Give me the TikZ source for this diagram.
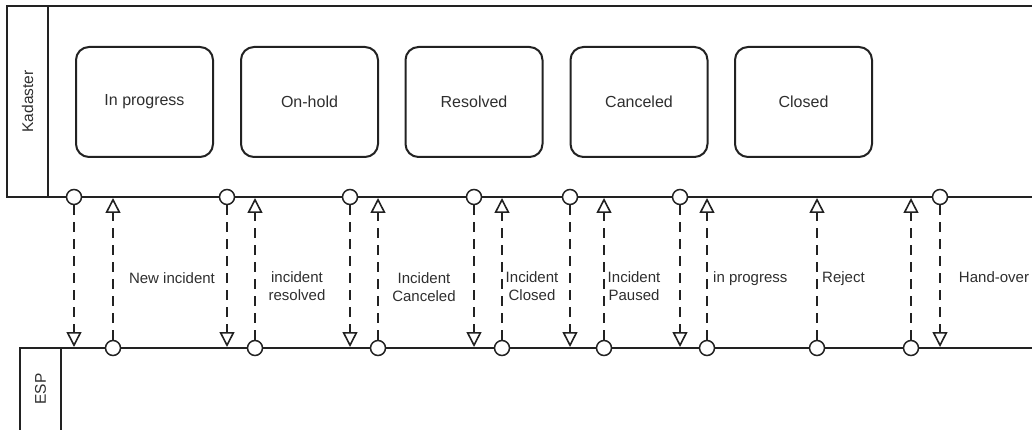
\documentclass[tikz,border=0pt]{standalone}
\usepackage{fontspec}
\setmainfont{Liberation Sans}
\usetikzlibrary{arrows.meta}
\definecolor{lncol}{HTML}{222222}
\definecolor{txtcol}{HTML}{2e2e2e}
\begin{document}
\begin{tikzpicture}[x=1pt,y=-1pt,
  lane/.style={draw=lncol, line width=2.5pt},
  lanelabel/.style={text=txtcol, rotate=90, font=\fontsize{15.5}{18}\selectfont},
  task/.style={draw=lncol, line width=2pt, rounded corners=13pt,
    minimum width=137pt, minimum height=110pt, text=txtcol,
    font=\fontsize{16}{19}\selectfont},
  port/.style={circle, draw=lncol, fill=white, line width=1.5pt,
    minimum size=15pt, inner sep=0pt},
  msg/.style={draw=lncol, line width=1.8pt, dash pattern=on 10pt off 7pt,
    -{Triangle[open, length=15pt, width=15pt, fill=white, line width=1.6pt]}},
  lbl/.style={text=txtcol, align=center, inner sep=0pt,
    font=\fontsize{15}{17.5}\selectfont}
]
\useasboundingbox (0,0) rectangle (1032,430);

% Kadaster pool
\draw[lane] (1034,6) -- (7,6) -- (7,197) -- (1034,197);
\draw[lane] (48,6) -- (48,197);
\node[lanelabel] (kadaster) at (27.5,101.5) {Kadaster};

% ESP pool
\draw[lane] (1034,348) -- (20,348) -- (20,434);
\draw[lane] (61,348) -- (61,434);
\node[lanelabel] (esp) at (40.5,389) {ESP};

% Status tasks
\node[task] (inprogress) at (144.5,102) {In progress};
\node[task] (onhold)     at (309.5,102) {On-hold};
\node[task] (resolved)   at (474,102)   {Resolved};
\node[task] (canceled)   at (639,102)   {Canceled};
\node[task] (closed)     at (803.5,102) {Closed};

% Messages from Kadaster to ESP
\foreach \x [count=\i] in {74,227,350,474,570,680,940} {
  \node[port] (kp\i) at (\x,197) {};
  \coordinate (ke\i) at (\x,347);
  \draw[msg] (kp\i) -- (ke\i);
}

% Messages from ESP to Kadaster
\foreach \x [count=\i] in {113,255,378,502,604,707,817,911} {
  \node[port] (ep\i) at (\x,348) {};
  \coordinate (ee\i) at (\x,198);
  \draw[msg] (ep\i) -- (ee\i);
}

% Message labels
\node[lbl, anchor=base] (lnew) at (172,283) {New incident};
\node[lbl] (lres)   at (297,286) {incident\\resolved};
\node[lbl] (lcan)   at (424,287) {Incident\\Canceled};
\node[lbl] (lclo)   at (532,286) {Incident\\Closed};
\node[lbl] (lpau)   at (634,286) {Incident\\Paused};
\node[lbl, anchor=base west] (lprog) at (713,282) {in progress};
\node[lbl, anchor=base west] (lrej)  at (822,282) {Reject};
\node[lbl, anchor=base] (lhand) at (994,282) {Hand-over};
\end{tikzpicture}
\end{document}
